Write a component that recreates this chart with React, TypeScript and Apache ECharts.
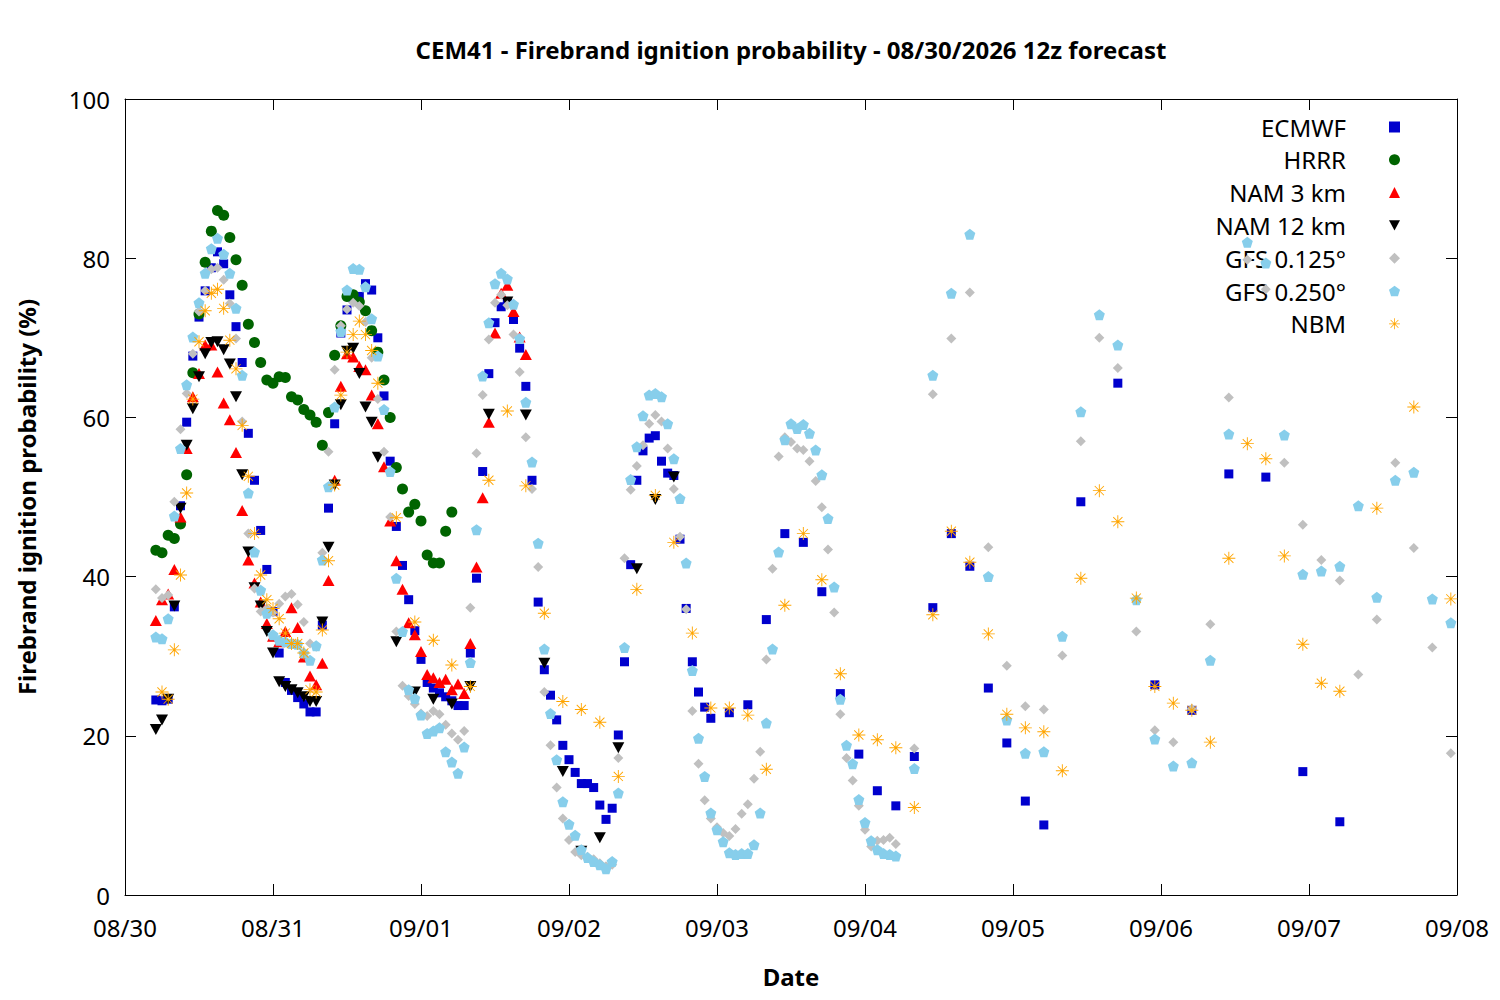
import React, { useEffect, useRef } from 'react';
import * as echarts from 'echarts';

const dateLabels = ['08/30', '08/31', '09/01', '09/02', '09/03', '09/04', '09/05', '09/06', '09/07', '09/08'];
const seriesNames = ['ECMWF', 'HRRR', 'NAM 3 km', 'NAM 12 km', 'GFS 0.125°', 'GFS 0.250°', 'NBM'];
const titleText = 'CEM41 - Firebrand ignition probability - 08/30/2026 12z forecast';

// [hours since 08/30 00:00, probability %]
const ecmwfPoints = [
  [5, 24.5], [6, 24.4], [7, 24.6], [8, 36.2], [9, 48.9], [10, 59.4], [11, 67.7], [12, 72.6], [13, 75.9], [14, 78.8],
  [15, 80.8], [16, 79.3], [17, 75.4], [18, 71.4], [19, 66.9], [20, 58.0], [21, 52.1], [22, 45.8], [23, 40.9], [24, 35.6],
  [25, 30.4], [26, 26.7], [27, 25.7], [28, 24.8], [29, 24.0], [30, 23.0], [31, 23.0], [32, 33.9], [33, 48.6], [34, 59.2],
  [35, 70.6], [36, 73.5], [37, 75.0], [38, 75.2], [39, 76.8], [40, 76.0], [41, 70.0], [42, 62.7], [43, 54.5], [44, 46.3],
  [45, 41.4], [46, 37.1], [47, 33.2], [48, 29.6], [49, 26.7], [50, 26.0], [51, 25.4], [52, 24.9], [53, 24.4], [54, 23.8],
  [55, 23.8], [56, 30.4], [57, 39.8], [58, 53.2], [59, 65.5], [60, 71.9], [61, 73.9], [62, 74.4], [63, 72.3], [64, 68.7],
  [65, 63.9], [66, 52.1], [67, 36.8], [68, 28.3], [69, 25.1], [70, 22.0], [71, 18.8], [72, 17.0], [73, 15.4], [74, 14.0],
  [75, 14.0], [76, 13.5], [77, 11.3], [78, 9.5], [79, 10.9], [80, 20.1], [81, 29.3], [82, 41.5], [83, 52.1], [84, 55.8],
  [85, 57.4], [86, 57.7], [87, 54.5], [88, 53.0], [89, 52.7], [90, 44.7], [91, 36.0], [92, 29.3], [93, 25.5], [94, 23.6],
  [95, 22.2], [98, 22.9], [101, 23.9], [104, 34.6], [107, 45.4], [110, 44.3], [113, 38.1], [116, 25.3], [119, 17.7],
  [122, 13.1], [125, 11.2], [128, 17.4], [131, 36.1], [134, 45.4], [137, 41.3], [140, 26.0], [143, 19.1], [146, 11.8],
  [149, 8.8], [155, 49.4], [161, 64.3], [167, 26.4], [173, 23.2], [179, 52.9], [185, 52.5], [191, 15.5], [197, 9.2],
];

const hrrrPoints = [
  [5, 43.3], [6, 43.0], [7, 45.2], [8, 44.8], [9, 46.6], [10, 52.8], [11, 65.6], [12, 73.0], [13, 79.5], [14, 83.4],
  [15, 86.0], [16, 85.4], [17, 82.6], [18, 79.8], [19, 76.6], [20, 71.7], [21, 69.4], [22, 66.9], [23, 64.7], [24, 64.3],
  [25, 65.1], [26, 65.0], [27, 62.6], [28, 62.2], [29, 61.0], [30, 60.3], [31, 59.4], [32, 56.5], [33, 60.6], [34, 67.8],
  [35, 71.5], [36, 75.2], [37, 75.4], [38, 74.5], [39, 73.4], [40, 70.9], [41, 68.2], [42, 64.7], [43, 60.0], [44, 53.7],
  [45, 51.0], [46, 48.1], [47, 49.1], [48, 47.0], [49, 42.7], [50, 41.7], [51, 41.7], [52, 45.7], [53, 48.1],
];

const nam3Points = [
  [5, 34.5], [6, 37.1], [7, 37.8], [8, 40.9], [9, 47.5], [10, 56.1], [11, 62.6], [12, 65.5], [13, 69.1], [14, 69.1],
  [15, 65.7], [16, 61.8], [17, 59.7], [18, 55.6], [19, 48.3], [20, 42.1], [21, 39.2], [22, 36.8], [23, 34.1], [24, 32.5],
  [25, 31.8], [26, 33.1], [27, 36.1], [28, 33.6], [29, 29.9], [30, 27.5], [31, 26.4], [32, 29.1], [33, 39.5], [34, 52.1],
  [35, 63.9], [36, 68.0], [37, 67.6], [38, 66.4], [39, 66.0], [40, 62.8], [41, 59.2], [42, 53.8], [43, 47.0], [44, 42.0],
  [45, 38.4], [46, 34.2], [47, 32.7], [48, 30.6], [49, 27.7], [50, 27.3], [51, 26.7], [52, 27.1], [53, 25.8], [54, 26.5],
  [55, 25.3], [56, 31.6], [57, 41.2], [58, 49.9], [59, 59.4], [60, 70.6], [61, 75.6], [62, 76.6], [63, 73.3], [64, 70.1],
  [65, 67.9],
];

const nam12Points = [
  [5, 20.8], [6, 22.0], [7, 24.6], [8, 36.3], [9, 48.6], [10, 56.5], [11, 61.1], [12, 65.1], [13, 68.0], [14, 69.4],
  [15, 69.5], [16, 68.5], [17, 66.7], [18, 62.6], [19, 52.8], [20, 43.1], [21, 38.6], [22, 36.3], [23, 33.1], [24, 30.4],
  [25, 26.8], [26, 26.2], [27, 25.8], [28, 25.4], [29, 24.9], [30, 24.3], [31, 24.3], [32, 34.3], [33, 43.7], [34, 51.5],
  [35, 61.6], [36, 68.3], [37, 68.7], [38, 65.5], [39, 61.3], [40, 59.4], [41, 55.0], [44, 31.8], [47, 25.5], [50, 24.6],
  [53, 24.0], [56, 26.2], [59, 60.4], [62, 74.5], [65, 60.3], [68, 29.1], [71, 15.5], [74, 5.5], [77, 7.2], [80, 18.5],
  [83, 41.0], [86, 49.7], [89, 52.5],
];

const gfs0125Points = [
  [5, 38.4], [6, 37.3], [7, 37.7], [8, 49.4], [9, 58.5], [10, 63.0], [11, 68.0], [12, 73.3], [13, 75.9], [14, 78.6],
  [15, 78.8], [16, 77.3], [17, 74.3], [18, 69.9], [19, 59.5], [20, 45.4], [21, 38.5], [22, 35.6], [23, 36.0], [24, 35.5],
  [25, 36.6], [26, 37.5], [27, 37.8], [28, 36.5], [29, 34.3], [30, 31.6], [31, 31.2], [32, 43.0], [33, 55.7], [34, 66.0],
  [35, 71.5], [36, 73.6], [37, 74.4], [38, 74.0], [39, 72.0], [40, 67.5], [41, 62.3], [42, 55.7], [43, 47.5], [44, 33.1],
  [45, 26.3], [46, 25.0], [47, 24.0], [48, 22.8], [49, 22.5], [50, 23.1], [51, 22.7], [52, 21.4], [53, 20.3], [54, 19.5],
  [55, 20.6], [56, 36.1], [57, 55.5], [58, 62.8], [59, 69.8], [60, 74.4], [61, 75.4], [62, 74.1], [63, 70.4], [64, 65.7],
  [65, 57.5], [66, 51.0], [67, 41.2], [68, 25.5], [69, 18.8], [70, 13.5], [71, 9.6], [72, 6.9], [73, 5.4], [74, 5.0],
  [75, 4.8], [76, 4.5], [77, 4.0], [78, 3.6], [79, 3.8], [80, 17.2], [81, 42.3], [82, 50.9], [83, 53.9], [84, 56.5],
  [85, 59.2], [86, 60.3], [87, 59.5], [88, 56.1], [89, 51.0], [90, 45.0], [91, 35.9], [92, 23.1], [93, 16.5], [94, 11.9],
  [95, 9.6], [96, 8.5], [97, 7.8], [98, 7.4], [99, 8.3], [100, 10.2], [101, 11.4], [102, 14.6], [103, 18.0], [104, 29.6],
  [105, 41.0], [106, 55.1], [107, 57.5], [108, 56.9], [109, 56.1], [110, 55.9], [111, 54.5], [112, 52.0], [113, 48.7],
  [114, 43.4], [115, 35.5], [116, 22.7], [117, 17.2], [118, 14.4], [119, 11.2], [120, 8.2], [121, 6.1], [122, 6.8],
  [123, 6.9], [124, 7.2], [125, 6.4], [128, 18.4], [131, 62.9], [134, 69.9], [137, 75.7], [140, 43.7], [143, 28.8],
  [146, 23.7], [149, 23.3], [152, 30.1], [155, 57.0], [158, 70.0], [161, 66.2], [164, 33.1], [167, 20.7], [170, 19.2],
  [173, 23.4], [176, 34.0], [179, 62.5], [182, 79.8], [185, 76.1], [188, 54.3], [191, 46.5], [194, 42.1], [197, 39.5],
  [200, 27.7], [203, 34.6], [206, 54.3], [209, 43.6], [212, 31.1], [215, 17.8],
];

const gfs0250Points = [
  [5, 32.4], [6, 32.2], [7, 34.7], [8, 47.6], [9, 56.1], [10, 64.1], [11, 70.1], [12, 74.4], [13, 78.1], [14, 81.2],
  [15, 82.5], [16, 80.5], [17, 78.1], [18, 73.7], [19, 65.3], [20, 50.5], [21, 43.1], [22, 38.3], [23, 35.4], [24, 32.7],
  [25, 32.0], [26, 31.8], [27, 31.6], [28, 31.5], [29, 30.4], [30, 29.5], [31, 31.3], [32, 42.1], [33, 51.3], [34, 61.3],
  [35, 70.8], [36, 76.0], [37, 78.7], [38, 78.6], [39, 76.4], [40, 72.4], [41, 67.7], [42, 61.0], [43, 53.2], [44, 39.8],
  [45, 33.1], [46, 25.8], [47, 24.7], [48, 22.6], [49, 20.3], [50, 20.6], [51, 21.0], [52, 18.0], [53, 16.7], [54, 15.3],
  [55, 18.6], [56, 29.2], [57, 45.9], [58, 65.2], [59, 71.9], [60, 76.8], [61, 78.1], [62, 77.4], [63, 74.2], [64, 69.9],
  [65, 61.9], [66, 54.4], [67, 44.2], [68, 30.9], [69, 22.8], [70, 17.0], [71, 11.7], [72, 8.9], [73, 7.5], [74, 5.7],
  [75, 4.7], [76, 4.2], [77, 3.8], [78, 3.3], [79, 4.2], [80, 12.8], [81, 31.1], [82, 52.2], [83, 56.3], [84, 60.2],
  [85, 62.8], [86, 63.0], [87, 62.6], [88, 59.2], [89, 54.8], [90, 49.8], [91, 41.7], [92, 28.2], [93, 19.7], [94, 14.9],
  [95, 10.3], [96, 8.2], [97, 6.7], [98, 5.3], [99, 5.1], [100, 5.2], [101, 5.2], [102, 6.3], [103, 10.3], [104, 21.6],
  [105, 30.9], [106, 43.1], [107, 57.2], [108, 59.2], [109, 58.6], [110, 59.1], [111, 58.0], [112, 55.9], [113, 52.8],
  [114, 47.3], [115, 38.7], [116, 24.6], [117, 18.8], [118, 16.5], [119, 12.0], [120, 9.1], [121, 6.8], [122, 5.7],
  [123, 5.2], [124, 5.1], [125, 4.9], [128, 15.9], [131, 65.3], [134, 75.6], [137, 83.0], [140, 40.0], [143, 22.0],
  [146, 17.8], [149, 18.0], [152, 32.5], [155, 60.7], [158, 72.9], [161, 69.1], [164, 37.1], [167, 19.6], [170, 16.2],
  [173, 16.6], [176, 29.5], [179, 57.9], [182, 82.0], [185, 79.4], [188, 57.8], [191, 40.3], [194, 40.7], [197, 41.3],
  [200, 48.9], [203, 37.4], [206, 52.1], [209, 53.1], [212, 37.2], [215, 34.2],
];

const nbmPoints = [
  [6, 25.5], [7, 24.6], [8, 30.8], [9, 40.2], [10, 50.5], [11, 62.3], [12, 69.5], [13, 73.4], [14, 75.6], [15, 76.1],
  [16, 73.7], [17, 69.7], [18, 66.1], [19, 59.0], [20, 52.6], [21, 45.4], [22, 40.2], [23, 37.1], [24, 36.0], [25, 34.7],
  [26, 32.9], [27, 31.6], [28, 31.6], [29, 30.4], [30, 25.8], [31, 25.5], [32, 33.3], [33, 42.0], [34, 51.5], [35, 62.8],
  [36, 68.2], [37, 70.4], [38, 72.1], [39, 70.4], [40, 68.4], [41, 64.3], [44, 47.4], [47, 34.3], [50, 32.0], [53, 28.9],
  [56, 26.2], [59, 52.1], [62, 60.8], [65, 51.4], [68, 35.4], [71, 24.3], [74, 23.3], [77, 21.7], [80, 14.9], [83, 38.4],
  [86, 50.2], [89, 44.3], [92, 32.9], [95, 23.5], [98, 23.5], [101, 22.6], [104, 15.8], [107, 36.4], [110, 45.4],
  [113, 39.6], [116, 27.8], [119, 20.1], [122, 19.5], [125, 18.5], [128, 11.0], [131, 35.2], [134, 45.7], [137, 41.8],
  [140, 32.8], [143, 22.7], [146, 21.0], [149, 20.5], [152, 15.6], [155, 39.8], [158, 50.8], [161, 46.9], [164, 37.3],
  [167, 26.2], [170, 24.1], [173, 23.2], [176, 19.2], [179, 42.3], [182, 56.7], [185, 54.8], [188, 42.6], [191, 31.5],
  [194, 26.6], [197, 25.6], [203, 48.6], [209, 61.3], [215, 37.2],
];

const PENTAGON = 'path://M10 0L19.51 6.91L15.88 18.09L4.12 18.09L0.49 6.91Z';
const DOWN_TRIANGLE = 'path://M0 0L12 0L6 11Z';
const ASTERISK =
  'path://M0 9.3H20V10.7H0Z M9.3 0H10.7V20H9.3Z M3.43 2.44L17.56 16.57L16.57 17.56L2.44 3.43Z M2.44 16.57L16.57 2.44L17.56 3.43L3.43 17.56Z';

const FONT = 'Noto Sans';
const FS = 24;

export default function App() {
  const ref = useRef<HTMLDivElement>(null);

  useEffect(() => {
    if (!ref.current) return;
    const chart = echarts.init(ref.current, undefined, { renderer: 'svg' });

    const mk = (name: string, data: number[][], symbol: string, size: any, color: string) => ({
      name,
      type: 'scatter',
      data,
      symbol,
      symbolSize: size,
      itemStyle: { color, opacity: 1 },
      emphasis: { disabled: true },
      silent: true,
      xAxisIndex: 0,
      yAxisIndex: 0,
      z: 3,
    });

    const axisCommon = {
      axisLine: { show: true, onZero: false, lineStyle: { color: '#000', width: 1 } },
      axisTick: { show: true, inside: true, length: 11, lineStyle: { color: '#000', width: 1 } },
      splitLine: { show: false },
    };

    const option: any = {
      animation: false,
      backgroundColor: '#fff',
      title: {
        text: titleText,
        left: 791,
        top: 49,
        textAlign: 'center',
        textVerticalAlign: 'middle',
        padding: 0,
        textStyle: { fontFamily: FONT, fontSize: FS, fontWeight: 'bold', color: '#000' },
      },
      grid: { left: 125, top: 99, width: 1332, height: 796, containLabel: false },
      legend: {
        orient: 'vertical',
        right: 100,
        top: 115,
        align: 'right',
        padding: 0,
        itemWidth: 11,
        itemHeight: 11,
        itemGap: 8.8,
        selectedMode: false,
        z: 1,
        textStyle: { fontFamily: FONT, fontSize: FS, color: '#000', lineHeight: 22, padding: [0, 38, 0, 0] },
        data: seriesNames,
      },
      xAxis: [
        {
          type: 'value',
          min: 0,
          max: 216,
          interval: 24,
          position: 'bottom',
          ...axisCommon,
          axisLabel: {
            margin: 20,
            fontFamily: FONT,
            fontSize: FS,
            color: '#000',
            formatter: (v: number) => dateLabels[Math.round(v / 24)] ?? '',
          },
          name: 'Date',
          nameLocation: 'middle',
          nameGap: 69,
          nameTextStyle: { fontFamily: FONT, fontSize: FS, fontWeight: 'bold', color: '#000' },
        },
        {
          type: 'value',
          min: 0,
          max: 216,
          interval: 24,
          position: 'top',
          ...axisCommon,
          axisLabel: { show: false },
        },
      ],
      yAxis: [
        {
          type: 'value',
          min: 0,
          max: 100,
          interval: 20,
          position: 'left',
          ...axisCommon,
          axisLabel: { margin: 15, fontFamily: FONT, fontSize: FS, color: '#000' },
          name: 'Firebrand ignition probability (%)',
          nameLocation: 'middle',
          nameGap: 87,
          nameTextStyle: { fontFamily: FONT, fontSize: FS, fontWeight: 'bold', color: '#000' },
        },
        {
          type: 'value',
          min: 0,
          max: 100,
          interval: 20,
          position: 'right',
          ...axisCommon,
          axisLabel: { show: false },
        },
      ],
      series: [
        mk(seriesNames[0], ecmwfPoints, 'rect', 9, '#0000cd'),
        mk(seriesNames[1], hrrrPoints, 'circle', 11, '#006400'),
        mk(seriesNames[2], nam3Points, 'triangle', [12, 11], '#ff0000'),
        mk(seriesNames[3], nam12Points, DOWN_TRIANGLE, [12, 11], '#000000'),
        mk(seriesNames[4], gfs0125Points, 'diamond', 10, '#c0c0c0'),
        mk(seriesNames[5], gfs0250Points, PENTAGON, 11, '#87ceeb'),
        mk(seriesNames[6], nbmPoints, ASTERISK, 13, '#ffa500'),
      ],
    };

    chart.setOption(option);
    return () => chart.dispose();
  }, []);

  return (
    <div
      ref={ref}
      style={{ position: 'absolute', left: 0, top: 0, width: 1500, height: 1000, background: '#fff' }}
    />
  );
}
